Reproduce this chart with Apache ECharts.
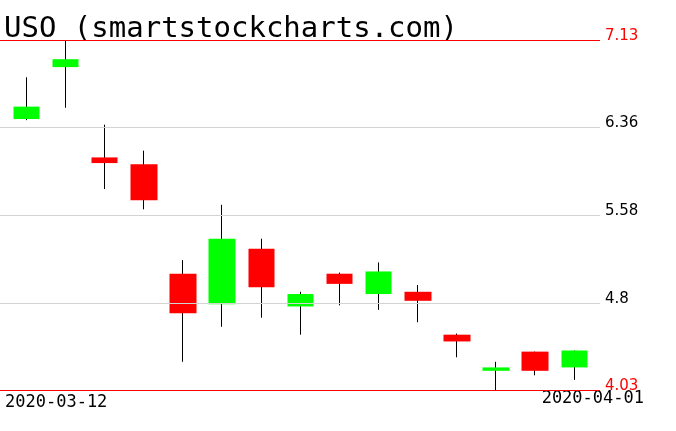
<!DOCTYPE html>
<html>
<head>
<meta charset="utf-8">
<script src="https://cdn.jsdelivr.net/npm/echarts@6/dist/echarts.min.js"></script>
<style>
  html, body { margin: 0; padding: 0; background: #fff; }
  #chart { width: 676px; height: 431px; }
</style>
</head>
<body>
<div id="chart"></div>
<script>
const title = "USO (smartstockcharts.com)";
const dates = ["2020-03-12", "2020-03-13", "2020-03-16", "2020-03-17", "2020-03-18",
  "2020-03-19", "2020-03-20", "2020-03-23", "2020-03-24", "2020-03-25",
  "2020-03-26", "2020-03-27", "2020-03-30", "2020-03-31", "2020-04-01"];
const opens  = [6.43, 6.89, 6.09, 6.03, 5.06, 4.79, 5.28, 4.77, 5.06, 4.88, 4.90, 4.52, 4.20, 4.37, 4.23];
const closes = [6.54, 6.96, 6.04, 5.71, 4.71, 5.37, 4.94, 4.88, 4.97, 5.08, 4.82, 4.46, 4.23, 4.20, 4.38];
const lows   = [6.42, 6.53, 5.81, 5.63, 4.28, 4.59, 4.67, 4.52, 4.78, 4.74, 4.63, 4.32, 4.03, 4.16, 4.12];
const highs  = [6.80, 7.13, 6.38, 6.15, 5.18, 5.67, 5.37, 4.90, 5.07, 5.16, 4.96, 4.53, 4.28, 4.37, 4.38];
const yTicks = [4.03, 4.8, 5.58, 6.36, 7.13];

const yMin = yTicks[0];
const yMax = yTicks[yTicks.length - 1];

const chart = echarts.init(document.getElementById("chart"));

// wicks: zero-height body at the low, shadow line up to the high
const wickData = dates.map((d, i) => [i, lows[i], lows[i], lows[i], highs[i]]);
const bodyData = dates.map((d, i) => [i, opens[i], closes[i],
  Math.min(opens[i], closes[i]), Math.max(opens[i], closes[i])]);

const option = {
  animation: false,
  grid: { left: 0, right: 76, top: 40, bottom: 41 },
  xAxis: {
    type: "value",
    min: -0.677,
    max: 14.657,
    show: false,
  },
  yAxis: {
    type: "value",
    position: "right",
    min: yMin,
    max: yMax,
    axisLine: { show: false },
    axisTick: { show: false },
    splitLine: { show: false },
    axisLabel: {
      customValues: yTicks,
      margin: 5,
      verticalAlign: "bottom",
      fontFamily: "DejaVu Sans",
      fontSize: 15,
      lineHeight: 7,
      formatter: (v) => String(v),
      color: (v) => (Number(v) === yMin || Number(v) === yMax ? "#ff0000" : "#000"),
    },
  },
  graphic: [
    {
      type: "text", left: 4, top: 15,
      style: { text: title, fontFamily: "DejaVu Sans Mono", fontSize: 29, fill: "#000" },
    },
    {
      type: "text", left: 5, top: 394,
      style: { text: dates[0], fontFamily: "DejaVu Sans Mono", fontSize: 17, fill: "#000" },
    },
    {
      type: "text", right: 32, top: 390,
      style: { text: dates[dates.length - 1], fontFamily: "DejaVu Sans Mono", fontSize: 17, fill: "#000" },
    },
  ],
  series: [
    {
      name: "wick",
      type: "candlestick",
      data: wickData,
      encode: { x: 0, y: [1, 2, 3, 4] },
      barWidth: 1,
      itemStyle: { color: "#000", color0: "#000", borderColor: "#000", borderColor0: "#000", borderWidth: 1 },
      markLine: {
        silent: true,
        symbol: ["none", "none"],
        label: { show: false },
        data: yTicks.map((v) => ({
          yAxis: v,
          lineStyle: {
            color: v === yMin || v === yMax ? "#ff0000" : "#d3d3d3",
            type: "solid",
            width: 1,
          },
        })),
      },
    },
    {
      name: "USO",
      type: "candlestick",
      data: bodyData,
      encode: { x: 0, y: [1, 2, 3, 4] },
      barWidth: 27,
      itemStyle: {
        color: "#00ff00",
        color0: "#ff0000",
        borderColor: "#00ff00",
        borderColor0: "#ff0000",
        borderWidth: 0,
      },
    },
  ],
};

chart.setOption(option);
</script>
</body>
</html>
